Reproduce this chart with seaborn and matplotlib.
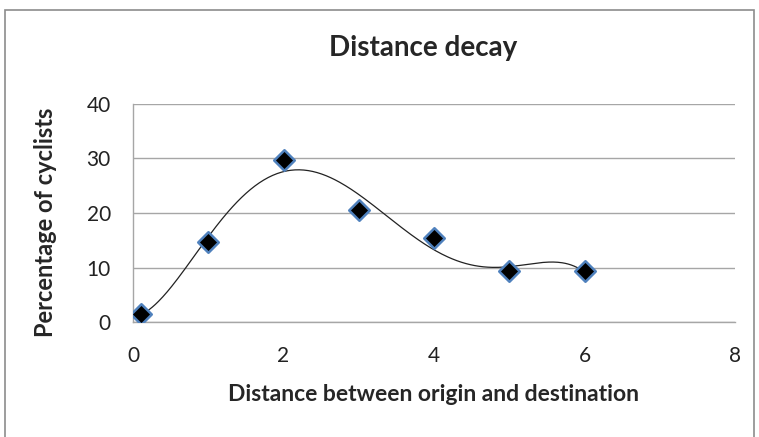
import numpy as np
import pandas as pd
import matplotlib
matplotlib.use('Agg')
import matplotlib.pyplot as plt
import seaborn as sns
from matplotlib.patches import Rectangle

# valeurs
distance = [0.1, 1, 2, 3, 4, 5, 6]
pct_cyclists = [1.5, 14.7, 29.8, 20.5, 15.4, 9.3, 9.3]
x_ticks = [0, 2, 4, 6, 8]
y_ticks = [0, 10, 20, 30, 40]

df = pd.DataFrame({'distance': distance, 'pct': pct_cyclists})

sns.set_style('white')
plt.rcParams['font.family'] = ['Lato', 'DejaVu Sans']

fig = plt.figure(figsize=(7.59, 4.37), dpi=100)
W, H = 759, 437
ax = fig.add_axes([133 / W, 1 - 322 / H, (735 - 133) / W, (322 - 104) / H])

# courbe de tendance polynomiale (ordre 5)
coefs = np.polyfit(df['distance'], df['pct'], 5)
xs = np.linspace(df['distance'].min(), df['distance'].max(), 300)
trend = pd.DataFrame({'x': xs, 'y': np.polyval(coefs, xs)})
sns.lineplot(data=trend, x='x', y='y', ax=ax, color='#222222', linewidth=0.9, zorder=3)

sns.scatterplot(data=df, x='distance', y='pct', ax=ax, marker='D', s=110,
                color='black', edgecolor='#4F81BD', linewidth=1.8, zorder=4)

ax.set_xlim(0, 8)
ax.set_ylim(0, 40)
ax.set_xticks(x_ticks)
ax.set_yticks(y_ticks)
ax.yaxis.grid(True, color='#A6A6A6', linewidth=1)
ax.set_axisbelow(True)
for s in ['top', 'right']:
    ax.spines[s].set_visible(False)
for s in ['left', 'bottom']:
    ax.spines[s].set_color('#A6A6A6')
    ax.spines[s].set_linewidth(1)
ax.tick_params(axis='both', which='both', direction='out', length=7, width=1,
               color='#A6A6A6', labelsize=15, labelcolor='#222222')
ax.tick_params(axis='x', pad=10)
ax.tick_params(axis='y', pad=9)

ax.set_xlabel('Distance between origin and destination', fontsize=16.5,
              fontweight='bold', labelpad=13)
ax.set_ylabel('Percentage of cyclists', fontsize=17, fontweight='bold')
ax.yaxis.set_label_coords((57 - 133) / (735 - 133), (322 - 222) / (322 - 104))
fig.text(423 / W, 1 - 48 / H, 'Distance decay', fontsize=20, fontweight='bold',
         ha='center', va='center')

# cadre du graphique
fig.patches.append(Rectangle((5 / W, -0.05), (754 - 5) / W, 1 - 10 / H + 0.05,
                             transform=fig.transFigure, fill=False,
                             edgecolor='#8C8C8C', linewidth=1.2))

fig.savefig('out.png', dpi=100)
